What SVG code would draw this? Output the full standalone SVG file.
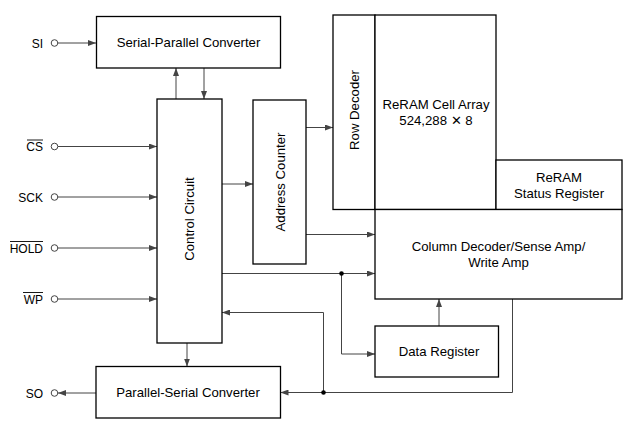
<svg xmlns="http://www.w3.org/2000/svg" width="629" height="427" viewBox="0 0 629 427">
<style>
.box{fill:#fff;stroke:#000;stroke-width:1.3}
.ln{fill:none;stroke:#444;stroke-width:1}
.t{font-family:"Liberation Sans",Arial,sans-serif;font-size:13.2px;fill:#000;text-anchor:middle}
.lb{font-family:"Liberation Sans",Arial,sans-serif;font-size:12px;fill:#000;text-anchor:end}
.pin{fill:#fff;stroke:#444;stroke-width:1}
.dot{fill:#000}
</style>
<defs>
<marker id="ah" viewBox="0 0 8 6" refX="8" refY="3" markerWidth="8" markerHeight="6" markerUnits="userSpaceOnUse" orient="auto">
<path d="M0,0 L8,3 L0,6 z" fill="#444"/>
</marker>
</defs>
<rect width="629" height="427" fill="#fff"/>
<g id="connectors">
<line class="ln" x1="58" y1="43" x2="96" y2="43" marker-end="url(#ah)"/>
<line class="ln" x1="58" y1="146.5" x2="157" y2="146.5" marker-end="url(#ah)"/>
<line class="ln" x1="58" y1="197" x2="157" y2="197" marker-end="url(#ah)"/>
<line class="ln" x1="58" y1="248" x2="157" y2="248" marker-end="url(#ah)"/>
<line class="ln" x1="58" y1="299" x2="157" y2="299" marker-end="url(#ah)"/>
<line class="ln" x1="96" y1="393" x2="58" y2="393" marker-end="url(#ah)"/>
<line class="ln" x1="176" y1="99" x2="176" y2="68" marker-end="url(#ah)"/>
<line class="ln" x1="204" y1="68" x2="204" y2="99" marker-end="url(#ah)"/>
<line class="ln" x1="187" y1="343" x2="187" y2="366.5" marker-end="url(#ah)"/>
<line class="ln" x1="222" y1="184" x2="253" y2="184" marker-end="url(#ah)"/>
<line class="ln" x1="306" y1="127.5" x2="333" y2="127.5" marker-end="url(#ah)"/>
<line class="ln" x1="306" y1="234.5" x2="375" y2="234.5" marker-end="url(#ah)"/>
<line class="ln" x1="222" y1="273.5" x2="375" y2="273.5" marker-end="url(#ah)"/>
<polyline class="ln" points="341.5,273.5 341.5,354 375,354" marker-end="url(#ah)"/>
<line class="ln" x1="439" y1="326" x2="439" y2="299" marker-end="url(#ah)"/>
<polyline class="ln" points="512.5,299 512.5,392.5 280.5,392.5" marker-end="url(#ah)"/>
<polyline class="ln" points="323.5,392.5 323.5,312.5 222,312.5" marker-end="url(#ah)"/>
<circle class="dot" cx="341.5" cy="273.5" r="2.3"/>
<circle class="dot" cx="323.5" cy="392.5" r="2.3"/>
</g>
<g id="pins">
<circle class="pin" cx="54.5" cy="43" r="3.3"/>
<circle class="pin" cx="54.5" cy="146.5" r="3.3"/>
<circle class="pin" cx="54.5" cy="197" r="3.3"/>
<circle class="pin" cx="54.5" cy="248" r="3.3"/>
<circle class="pin" cx="54.5" cy="299" r="3.3"/>
<circle class="pin" cx="54.5" cy="393" r="3.3"/>
<text class="lb" x="43" y="47.5">SI</text>
<text class="lb" x="43" y="151">CS</text>
<line x1="27" y1="140" x2="43" y2="140" stroke="#000" stroke-width="0.9"/>
<text class="lb" x="43" y="201.5">SCK</text>
<text class="lb" x="43" y="252.5">HOLD</text>
<line x1="10" y1="241.5" x2="43" y2="241.5" stroke="#000" stroke-width="0.9"/>
<text class="lb" x="43" y="303.5">WP</text>
<line x1="23" y1="292.5" x2="43" y2="292.5" stroke="#000" stroke-width="0.9"/>
<text class="lb" x="43" y="397.5">SO</text>
</g>
<g id="sp-converter">
<rect class="box" x="96.5" y="16.5" width="184" height="51.5"/>
<text class="t" x="188.5" y="47">Serial-Parallel Converter</text>
</g>
<g id="control-circuit">
<rect class="box" x="157" y="99" width="65" height="244"/>
<text class="t" transform="translate(194,219) rotate(-90)">Control Circuit</text>
</g>
<g id="address-counter">
<rect class="box" x="253" y="100" width="53" height="164"/>
<text class="t" transform="translate(284.5,182) rotate(-90)">Address Counter</text>
</g>
<g id="row-decoder">
<rect class="box" x="333" y="15" width="42" height="194.5"/>
<text class="t" transform="translate(358.5,110) rotate(-90)">Row Decoder</text>
</g>
<g id="cell-array">
<rect class="box" x="375" y="15" width="121" height="194.5"/>
<text class="t" x="436" y="109">ReRAM Cell Array</text>
<text class="t" x="436" y="124.5">524,288 ✕ 8</text>
</g>
<g id="status-register">
<rect class="box" x="496" y="160" width="126" height="49.5"/>
<text class="t" x="559" y="182">ReRAM</text>
<text class="t" x="559" y="197.5">Status Register</text>
</g>
<g id="column-decoder">
<rect class="box" x="375" y="209.5" width="247" height="89.5"/>
<text class="t" x="498.5" y="250.5">Column Decoder/Sense Amp/</text>
<text class="t" x="498.5" y="266.5">Write Amp</text>
</g>
<g id="data-register">
<rect class="box" x="375" y="326" width="123.5" height="51"/>
<text class="t" x="439" y="356">Data Register</text>
</g>
<g id="ps-converter">
<rect class="box" x="96" y="366.5" width="184.5" height="51.5"/>
<text class="t" x="188" y="397">Parallel-Serial Converter</text>
</g>
</svg>
